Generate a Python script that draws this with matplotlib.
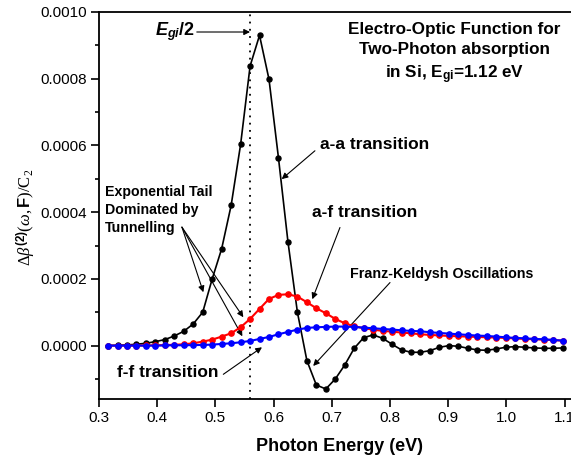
import matplotlib
matplotlib.use("Agg")
import matplotlib.pyplot as plt
from matplotlib.ticker import MultipleLocator, FormatStrFormatter

plt.rcParams['font.family'] = ['Liberation Sans', 'DejaVu Sans']
plt.rcParams['mathtext.fontset'] = 'custom'
plt.rcParams['mathtext.rm'] = 'Liberation Serif'
plt.rcParams['mathtext.it'] = 'Liberation Serif:italic'
plt.rcParams['mathtext.bf'] = 'Liberation Sans:bold'
plt.rcParams['mathtext.bfit'] = 'Liberation Sans:bold:italic'

# Photon energy (eV)
energy = [0.3155, 0.3318, 0.3480, 0.3643, 0.3806, 0.3969, 0.4131, 0.4294, 0.4457, 0.4619,
          0.4782, 0.4945, 0.5107, 0.5270, 0.5433, 0.5596, 0.5758, 0.5921, 0.6084, 0.6246,
          0.6409, 0.6572, 0.6734, 0.6897, 0.7060, 0.7223, 0.7385, 0.7548, 0.7711, 0.7873,
          0.8036, 0.8199, 0.8361, 0.8524, 0.8687, 0.8850, 0.9012, 0.9175, 0.9338, 0.9500,
          0.9663, 0.9826, 0.9988, 1.0151, 1.0314, 1.0477, 1.0639, 1.0802, 1.0965]

# a-a transition (x1e-5)
aa = [0.0, 0.1, 0.2, 0.4, 0.7, 1.2, 1.8, 2.9, 4.3, 6.5,
      10.0, 20.0, 29.0, 42.0, 60.3, 83.8, 93.0, 79.8, 56.2, 31.2,
      10.0, -4.5, -11.8, -13.0, -10.0, -5.8, -0.8, 2.4, 3.2, 2.2,
      0.4, -1.3, -2.0, -2.0, -1.5, -0.5, 0.0, -0.2, -0.8, -1.3,
      -1.4, -1.0, -0.5, -0.3, -0.5, -0.7, -0.8, -0.8, -0.7]

# a-f transition (x1e-5)
af = [0.0, 0.0, 0.0, 0.0, 0.05, 0.1, 0.15, 0.25, 0.4, 0.7,
      1.2, 1.8, 2.7, 3.7, 5.5, 8.0, 11.0, 14.0, 15.2, 15.4,
      14.7, 13.0, 11.2, 9.7, 8.0, 6.7, 5.8, 5.2, 4.8, 4.4,
      4.2, 3.9, 3.7, 3.4, 3.2, 3.05, 2.9, 2.8, 2.7, 2.6,
      2.5, 2.4, 2.3, 2.15, 2.0, 1.9, 1.8, 1.65, 1.5]

# f-f transition (x1e-5)
ff = [0.0, 0.0, 0.0, 0.0, 0.0, 0.0, 0.05, 0.1, 0.1, 0.15,
      0.2, 0.3, 0.5, 0.7, 1.0, 1.4, 2.0, 2.6, 3.4, 4.1,
      4.8, 5.3, 5.5, 5.6, 5.7, 5.7, 5.6, 5.4, 5.2, 5.0,
      4.8, 4.6, 4.4, 4.3, 4.0, 3.8, 3.6, 3.4, 3.2, 3.0,
      2.9, 2.7, 2.5, 2.3, 2.2, 2.0, 1.9, 1.7, 1.5]

scale = 1e-5
aa_v = [v * scale for v in aa]
af_v = [v * scale for v in af]
ff_v = [v * scale for v in ff]

fig = plt.figure(figsize=(5.71, 4.61), dpi=100)
ax = fig.add_axes([0.1734, 0.1345, 0.8266, 0.8395])

ax.plot(energy, aa_v, '-o', color='black', lw=1.2, ms=3.6, zorder=3)
ax.plot(energy, af_v, '-o', color='#ff0000', lw=1.5, ms=3.8, zorder=4)
ax.plot(energy, ff_v, '-o', color='#0000ff', lw=1.5, ms=3.8, zorder=5)

ax.axvline(0.56, color='black', lw=1.3, linestyle=(0, (1, 3)), zorder=2)

ax.set_xlim(0.3, 1.111)
ax.set_ylim(-0.00016, 0.0010)
ax.xaxis.set_major_locator(MultipleLocator(0.1))
ax.xaxis.set_major_formatter(FormatStrFormatter('%.1f'))
ax.yaxis.set_major_locator(MultipleLocator(0.0002))
ax.yaxis.set_minor_locator(MultipleLocator(0.0001))
ax.yaxis.set_major_formatter(FormatStrFormatter('%.4f'))

ax.tick_params(axis='both', which='major', direction='out', length=5.5, width=1.2,
               labelsize=11, pad=3)
ax.tick_params(axis='y', which='minor', direction='out', length=3, width=1.2)
for s in ['left', 'bottom', 'top']:
    ax.spines[s].set_linewidth(1.3)
ax.spines['right'].set_visible(False)

ax.set_xlabel('Photon Energy (eV)', fontsize=13, fontweight='bold')
ax.xaxis.set_label_coords(0.51, -0.10)
ax.set_ylabel(r'$\Delta\beta^{\mathbf{(2)}}(\omega,\mathbf{F})/\mathrm{C}_2$', fontsize=12)
ax.yaxis.set_label_coords(-0.13, 0.47)

# Title block
ax.text(0.911, 0.000874, 'Electro-Optic Function for\nTwo-Photon absorption\nin Si, E$_{\\mathbf{gi}}$=1.12 eV',
        ha='center', va='center', fontsize=12.3, fontweight='bold', linespacing=1.45)

# E_gi/2 label
ax.text(0.465, 0.00094, r'$\mathbfit{E}_{\mathbfit{gi}}$/2', ha='right', va='center',
        fontsize=13, fontweight='bold')
arrow = dict(arrowstyle='-|>', color='black', lw=0.8, mutation_scale=9, shrinkA=0, shrinkB=0)
ax.annotate('', xy=(0.5595, 0.00094), xytext=(0.468, 0.00094), arrowprops=arrow)

# a-a
ax.text(0.6797, 0.000604, 'a-a transition', ha='left', va='center', fontsize=12.5, fontweight='bold')
ax.annotate('', xy=(0.6139, 0.000499), xytext=(0.671, 0.000584), arrowprops=arrow)

# a-f
ax.text(0.666, 0.000400, 'a-f transition', ha='left', va='center', fontsize=12.5, fontweight='bold')
ax.annotate('', xy=(0.6665, 0.000139), xytext=(0.714, 0.000354), arrowprops=arrow)

# Franz-Keldysh
ax.text(0.7313, 0.000214, 'Franz-Keldysh Oscillations', ha='left', va='center', fontsize=10.3,
        fontweight='bold')
ax.annotate('', xy=(0.668, -0.000061), xytext=(0.80, 0.000189), arrowprops=arrow)

# f-f
ax.text(0.3304, -0.00008, 'f-f transition', ha='left', va='center', fontsize=12.5, fontweight='bold')
ax.annotate('', xy=(0.580, -0.000005), xytext=(0.5136, -0.000086), arrowprops=arrow)

# Exponential tail
ax.text(0.3103, 0.000406, 'Exponential Tail\nDominated by\nTunnelling', ha='left', va='center',
        fontsize=10.2, fontweight='bold', linespacing=1.35)
start = (0.4425, 0.000355)
ax.annotate('', xy=(0.4793, 0.000160), xytext=start, arrowprops=arrow)
ax.annotate('', xy=(0.5480, 0.000085), xytext=start, arrowprops=arrow)
ax.annotate('', xy=(0.5463, 0.000028), xytext=start, arrowprops=arrow)

fig.savefig('out.png', dpi=100)
